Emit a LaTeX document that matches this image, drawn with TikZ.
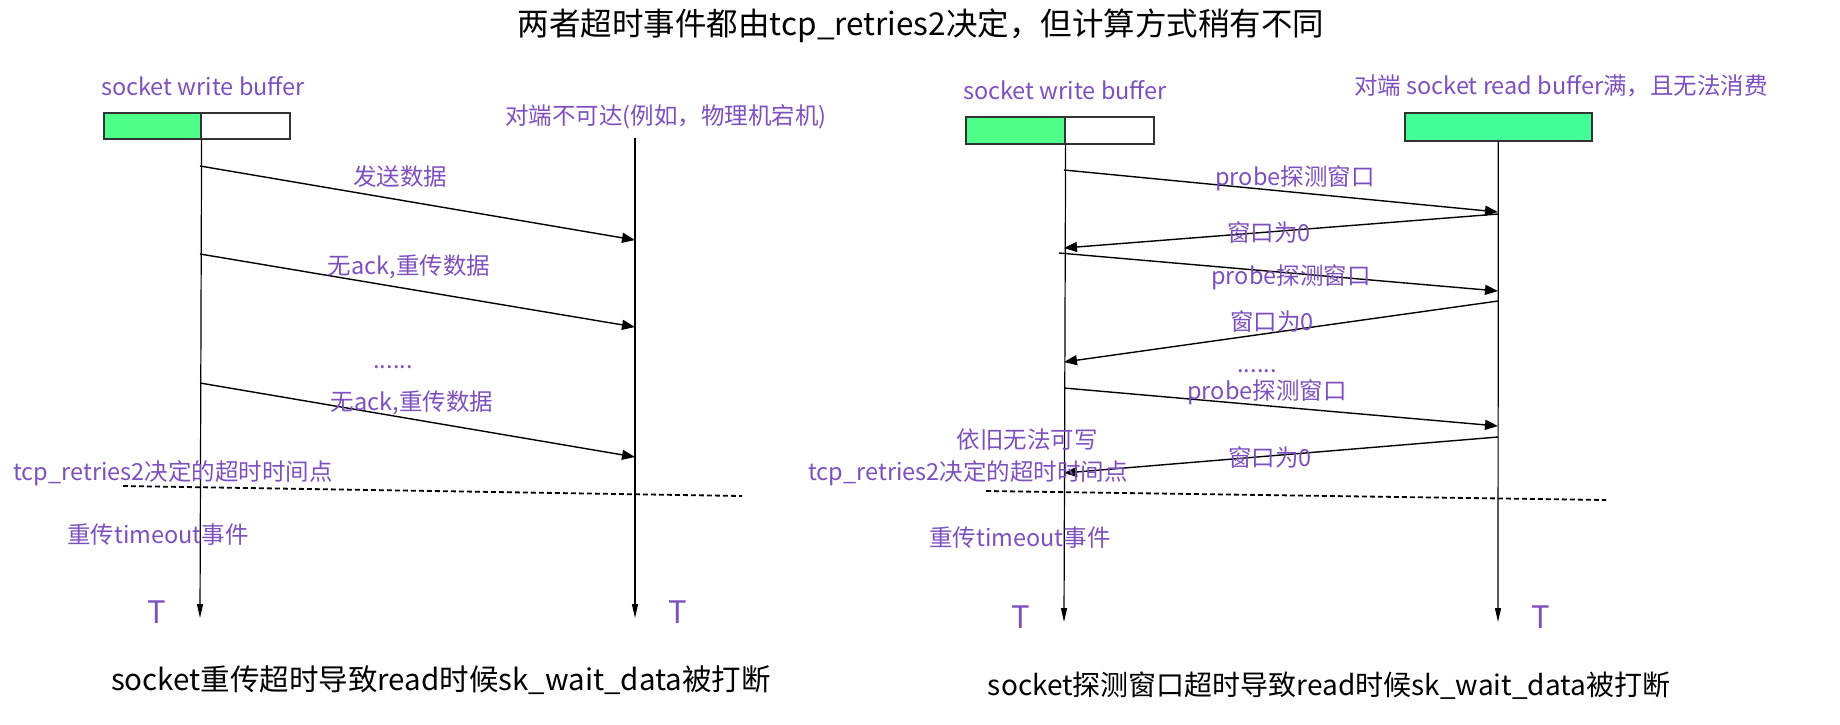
\documentclass[tikz,border=0pt]{standalone}
\usepackage{fontspec}
\setmainfont{Noto Sans CJK SC}
\usetikzlibrary{arrows.meta}
\definecolor{lblpurple}{HTML}{7E4FBF}
\definecolor{bufgreen}{HTML}{4DFF88}
\definecolor{peergreen}{HTML}{44FF99}
\definecolor{edgegray}{HTML}{333333}

\begin{document}
\begin{tikzpicture}[x=1pt,y=-1pt,
    lbl/.style={text=lblpurple,font=\fontsize{23.5}{23.5}\selectfont,inner sep=0pt},
    big/.style={font=\fontsize{29.5}{29.5}\selectfont,inner sep=0pt},
    tick/.style={text=lblpurple,font=\fontsize{31}{31}\selectfont,inner sep=0pt},
    buf/.style={draw=edgegray,line width=1.6pt,inner sep=0pt,anchor=north west},
    life/.style={line width=1.2pt,-{Triangle[length=14pt,width=6pt]}},
    msg/.style={line width=1.4pt,-{Triangle[length=13pt,width=10pt]}},
    cut/.style={line width=1.8pt,dash pattern=on 5pt off 3pt}]
    \useasboundingbox (0,0) rectangle (1840,724);

    \node [big,font=\fontsize{31.5}{31.5}\selectfont] (title) at (921,26) {两者超时事件都由tcp\_retries2决定，但计算方式稍有不同};

    % left: retransmit timeout
    \node [lbl] (lwlabel) at (203,86) {socket write buffer};
    \node [buf,fill=bufgreen,minimum width=97pt,minimum height=26pt] (lwg) at (103,112) {};
    \node [buf,fill=white,minimum width=89pt,minimum height=26pt] (lww) at (200,112) {};
    \node [lbl] (lpeer) at (666,117) {对端不可达(例如，物理机宕机)};
    \coordinate (lptop) at (635,138);
    \coordinate (lwend) at (200,618);
    \coordinate (lpend) at (635,618);
    \draw [life] (lwg.south east) -- (lwend);
    \draw [life] (lptop) -- (lpend);

    \coordinate (a1) at (200,166);
    \coordinate (b1) at (635,240);
    \coordinate (a2) at (200,254);
    \coordinate (b2) at (635,327);
    \coordinate (a3) at (200,383);
    \coordinate (b3) at (635,457);
    \draw [msg] (a1) -- (b1);
    \draw [msg] (a2) -- (b2);
    \draw [msg] (a3) -- (b3);
    \node [lbl] (lm1) at (400,177) {发送数据};
    \node [lbl] (lm2) at (409,267) {无ack,重传数据};
    \node [lbl,anchor=base] (ldots) at (393,368) {......};
    \node [lbl] (lm3) at (412,403) {无ack,重传数据};

    \node [lbl] (lretries) at (173,473) {tcp\_retries2决定的超时时间点};
    \coordinate (lcut1) at (123,486);
    \coordinate (lcut2) at (742,496);
    \draw [cut] (lcut1) -- (lcut2);
    \node [lbl] (levent) at (158,535) {重传timeout事件};
    \node [tick] (lt1) at (157,612) {T};
    \node [tick] (lt2) at (678,612) {T};
    \node [big] (lcaption) at (441,680) {socket重传超时导致read时候sk\_wait\_data被打断};

    % right: zero window probe timeout
    \node [lbl] (rwlabel) at (1065,90) {socket write buffer};
    \node [buf,fill=bufgreen,minimum width=99pt,minimum height=27pt] (rwg) at (965,116) {};
    \node [buf,fill=white,minimum width=89pt,minimum height=27pt] (rww) at (1064,116) {};
    \node [lbl] (rpeer) at (1561,86) {对端 socket read buffer满，且无法消费};
    \node [buf,fill=peergreen,minimum width=187pt,minimum height=28pt] (rpg) at (1404,112) {};
    \coordinate (rwend) at (1064,622);
    \coordinate (rpend) at (1498,622);
    \draw [life] (rwg.south east) -- (rwend);
    \draw [life] (rpg.south) -- (rpend);

    \coordinate (c1) at (1064,170);
    \coordinate (d1) at (1498,212);
    \coordinate (d2) at (1498,214);
    \coordinate (c2) at (1064,248);
    \coordinate (c3) at (1059,253);
    \coordinate (d3) at (1498,291);
    \coordinate (d4) at (1498,301);
    \coordinate (c4) at (1064,362);
    \coordinate (c5) at (1064,388);
    \coordinate (d5) at (1498,426);
    \coordinate (d6) at (1498,437);
    \coordinate (c6) at (1064,473);
    \draw [msg] (c1) -- (d1);
    \draw [msg] (d2) -- (c2);
    \draw [msg] (c3) -- (d3);
    \draw [msg] (d4) -- (c4);
    \draw [msg] (c5) -- (d5);
    \draw [msg] (d6) -- (c6);
    \node [lbl] (rm1) at (1295,178) {probe探测窗口};
    \node [lbl] (rm2) at (1269,233) {窗口为0};
    \node [lbl] (rm3) at (1291,277) {probe探测窗口};
    \node [lbl] (rm4) at (1272,322) {窗口为0};
    \node [lbl,anchor=base] (rdots) at (1257,372) {......};
    \node [lbl] (rm5) at (1267,392) {probe探测窗口};
    \node [lbl] (rm6) at (1270,458) {窗口为0};

    \node [lbl] (rstill) at (1027,440) {依旧无法可写};
    \node [lbl] (rretries) at (968,473) {tcp\_retries2决定的超时时间点};
    \coordinate (rcut1) at (986,491);
    \coordinate (rcut2) at (1606,500);
    \draw [cut] (rcut1) -- (rcut2);
    \node [lbl] (revent) at (1020,538) {重传timeout事件};
    \node [tick] (rt1) at (1021,617) {T};
    \node [tick] (rt2) at (1541,617) {T};
    \node [big,font=\fontsize{28}{28}\selectfont] (rcaption) at (1329,686) {socket探测窗口超时导致read时候sk\_wait\_data被打断};
\end{tikzpicture}
\end{document}
